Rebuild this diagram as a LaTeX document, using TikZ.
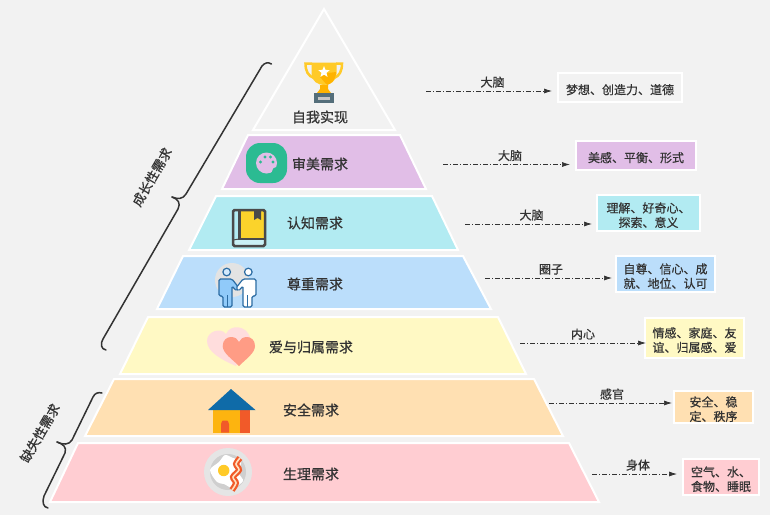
\documentclass[tikz,border=0pt]{standalone}
\usepackage{fontspec}
\setmainfont[UprightFeatures={FakeBold=0.6}]{Noto Sans CJK SC}
\usetikzlibrary{arrows.meta,shapes.geometric}
\definecolor{pagegray}{HTML}{F2F2F2}
\definecolor{textdark}{HTML}{333333}
\definecolor{purplefill}{HTML}{E1BEE7}
\definecolor{cyanfill}{HTML}{B2EBF2}
\definecolor{bluefill}{HTML}{BBDEFB}
\definecolor{yellowfill}{HTML}{FFF9C4}
\definecolor{orangefill}{HTML}{FFE0B2}
\definecolor{pinkfill}{HTML}{FFCDD2}
\definecolor{trophygold}{HTML}{FFCA28}
\definecolor{trophyshade}{HTML}{FFB300}
\definecolor{slate}{HTML}{546E7A}
\definecolor{palettegreen}{HTML}{2BBB92}
\definecolor{bookgray}{HTML}{4A4A4A}
\definecolor{bookyellow}{HTML}{FBD32B}
\definecolor{peopleline}{HTML}{2B6CA3}
\definecolor{peopleblue}{HTML}{90CAF9}
\definecolor{heartback}{HTML}{FFDDDD}
\definecolor{heartfront}{HTML}{FF9C85}
\definecolor{roofblue}{HTML}{0F6BA8}
\definecolor{wallyellow}{HTML}{FDB40F}
\definecolor{wallred}{HTML}{F15A29}
\newcommand{\liftline}{\rule{0pt}{14.5pt}}

\begin{document}
\begin{tikzpicture}[
  x=1pt,
  y=-1pt,
  layer/.style={
    draw=white,
    line width=2pt,
    line join=miter
  },
  layertext/.style={
    text=textdark,
    font=\fontsize{14}{16}\selectfont,
    inner sep=0pt
  },
  infobox/.style={
    draw=white,
    line width=2pt,
    inner sep=0pt,
    align=center,
    text=textdark,
    font=\fontsize{12}{14.5}\selectfont
  },
  flowline/.style={
    draw=textdark,
    line width=.7pt,
    dash pattern=on 5pt off 2pt on 1pt off 2pt,
    -{Latex[length=8pt,width=5pt]}
  },
  flowtext/.style={
    text=textdark,
    font=\fontsize{12}{14}\selectfont,
    inner sep=3pt,
    xshift=1pt
  },
  bracket/.style={
    draw=textdark,
    line width=1.5pt,
    line cap=round
  },
  bracetext/.style={
    text=textdark,
    font=\fontsize{13}{15}\selectfont,
    inner sep=0pt,
    rotate=60
  },
  persona/.style={
    draw=peopleline,
    line width=1.2pt,
    rounded corners=1.5pt
  },
]
\fill[pagegray] (0,0) rectangle (770,515);
\useasboundingbox (0,0) rectangle (770,515);

% pyramid
\draw[layer,fill=pagegray] (324,9) -- (395,130) -- (253,130) -- cycle;
\foreach \col/\xa/\xb/\ya/\xc/\xd/\yb in {
  purplefill/248/400/135/426/222/189,
  cyanfill/216/432/196/458/189/250,
  bluefill/183/463/256/491/157/309,
  yellowfill/148/498/317/526/120/374,
  orangefill/114/534/379/563/85/436,
  pinkfill/78/569/443/599/50/502
}{
  \draw[layer,fill=\col] (\xa,\ya) -- (\xb,\ya) -- (\xc,\yb) -- (\xd,\yb) -- cycle;
}

% trophy
\draw[trophygold,line width=2.5pt] (312,63.5) -- (305.5,63.5) .. controls (305.5,71) and (308,76) .. (314,78);
\draw[trophygold,line width=2.5pt] (336,63.5) -- (342,63.5) .. controls (342,71) and (339.5,76) .. (334,78);
\fill[trophygold] (311.5,62.5) -- (336.5,62.5) -- (336.5,74) .. controls (336.5,81) and (330,85) .. (324,85) .. controls (318,85) and (311.5,81) .. (311.5,74) -- cycle;
\fill[trophyshade] (328,73) -- (336,72) .. controls (336,80) and (331,84) .. (327,85) -- (320,77) -- cycle;
\fill[trophyshade] (320,85) -- (328,85) -- (328,89) -- (331,93) -- (317,93) -- (320,89) -- cycle;
\fill[slate] (314,93) rectangle (333.5,103);
\fill[gray!45] (318,96.5) rectangle (330,100);
\node[star,star points=5,star point ratio=2.3,fill=white,inner sep=0pt,minimum size=12pt] (trophystar) at (324,72) {};

% palette
\fill[palettegreen,rounded corners=14pt] (246,143) rectangle (287,183);
\fill[purplefill] (266.5,163) circle[radius=10.5];
\fill[palettegreen] (276.5,171.5) circle[radius=4.5];
\foreach \px/\py in {260.5/162,265/157,270.5/157,273/162}{
  \fill[palettegreen] (\px,\py) circle[radius=1.7];
}

% book
\fill[bookyellow] (240,210) rectangle (264,238);
\fill[cyanfill!70!white] (234,240) rectangle (264,246);
\draw[bookgray,line width=2.5pt,rounded corners=1.5pt] (233,210) rectangle (265,246);
\draw[bookgray,line width=2.5pt] (239.5,210) -- (239.5,239) -- (265,239);
\draw[bookgray,line width=1pt] (233,240) -- (239,239);
\fill[bookgray] (254,210) -- (261,210) -- (261,220) -- (257.5,218) -- (254,220) -- cycle;

% handshake
\fill[gray!22] (232,280) circle[radius=17];
\draw[persona,fill=peopleblue] (219,296) -- (219,279) -- (232,279) -- (239,288) -- (236.5,291) -- (232,286) -- (232,307) -- (223,307) -- (223,296) -- cycle;
\draw[persona] (227.5,295) -- (227.5,307);
\draw[peopleline,line width=1.2pt,fill=peopleblue!40] (226.7,272) circle[radius=3.8];
\draw[persona,fill=white] (256,296) -- (256,279) -- (243,279) -- (236,288) -- (238.5,291) -- (243,286) -- (243,307) -- (252,307) -- (252,296) -- cycle;
\draw[persona] (247.5,295) -- (247.5,307);
\draw[peopleline,line width=1.2pt,fill=white] (248.3,272) circle[radius=3.8];

% hearts
\fill[heartback] (236,366) .. controls (222,360) and (207,352) .. (207,341) .. controls (207,331) and (221,327) .. (226,334) .. controls (230,324) and (246,325) .. (250,337) -- cycle;
\fill[heartfront] (239,366) .. controls (232,359) and (222.7,353) .. (222.7,346) .. controls (222.7,340) and (227,337) .. (231,337) .. controls (235,337) and (238,339) .. (239,342) .. controls (240,339) and (243,337) .. (247,337) .. controls (251,337) and (255,340) .. (255,346) .. controls (255,353) and (246,359) .. (239,366) -- cycle;

% house
\fill[wallyellow] (213,409) rectangle (240,432.5);
\fill[wallred] (240,409) rectangle (250,432.5);
\fill[wallred] (221,432.5) -- (221,424) .. controls (221,421) and (223,421) .. (223,420.5) -- (227,420.5) .. controls (227,421) and (229,421) .. (229,424) -- (229,432.5) -- cycle;
\fill[roofblue] (231,389) -- (255.5,410) -- (208,410) -- cycle;

% plate
\fill[gray!20] (228,472) circle[radius=24];
\fill[gray!38] (228,472) circle[radius=18];
\fill[white] plot[smooth cycle] coordinates {(210,470) (219,462) (225,455) (233,458) (241,461) (239,473) (243,481) (233,488) (224,484) (217,482)};
\fill[trophygold] (223.7,470.5) circle[radius=5.7];
\draw[wallred,line width=6pt] plot[smooth] coordinates {(240,458) (236,464) (239,470) (233,477) (236,483) (232,490)};
\draw[orange!25,line width=1.6pt] plot[smooth] coordinates {(240,458) (236,464) (239,470) (233,477) (236,483) (232,490)};

% level names
\foreach \n/\tx/\ty/\t in {
  a/320/117/自我实现,
  b/320/164/审美需求,
  c/315/223/认知需求,
  d/315/284/尊重需求,
  e/311/347/爱与归属需求,
  f/311/410/安全需求,
  g/311/474/生理需求
}{
  \node[layertext] (level\n) at (\tx,\ty) {\t};
}

% boxes and arrows
\node[infobox,fill=pagegray,minimum width=124pt,minimum height=29pt] (boxa) at (620,87.5) {\liftline 梦想、创造力、道德};
\node[infobox,fill=purplefill,minimum width=120pt,minimum height=29pt] (boxb) at (636,155.5) {\liftline 美感、平衡、形式};
\node[infobox,fill=cyanfill,minimum width=103pt,minimum height=36pt] (boxc) at (648.5,213) {\liftline 理解、好奇心、\\探索、意义};
\node[infobox,fill=bluefill,minimum width=99pt,minimum height=36pt] (boxd) at (665.5,274) {\liftline 自尊、信心、成\\就、地位、认可};
\node[infobox,fill=yellowfill,minimum width=99pt,minimum height=40pt] (boxe) at (694.5,338) {\liftline 情感、家庭、友\\谊、归属感、爱};
\node[infobox,fill=orangefill,minimum width=79pt,minimum height=32pt] (boxf) at (713.5,407) {\liftline 安全、稳\\定、秩序};
\node[infobox,fill=pinkfill,minimum width=76pt,minimum height=36pt] (boxg) at (721,477) {\liftline 空气、水、\\食物、睡眠};

\foreach \n/\sx/\sy/\gap/\t in {
  a/426/91/5/大脑,
  b/443/164.5/5/大脑,
  c/465/224/4/大脑,
  d/485/278/3/圈子,
  e/520/343/-2/内心,
  f/549/403/1/感官,
  g/592/474/5/身体
}{
  \coordinate (start\n) at (\sx,\sy);
  \draw[flowline,shorten >=\gap pt] (start\n) -- (start\n -| box\n.west)
    node[flowtext,midway,above] (flow\n) {\t};
}

% braces
\draw[bracket] (271.5,64) .. controls (268,62) and (265,62.5) .. (262,66) -- (186,194) .. controls (183,199) and (178,199.5) .. (172,197);
\draw[bracket] (172,197) .. controls (178,199) and (181,203) .. (178,209) -- (103,339) .. controls (100,344) and (101,349) .. (106,350);
\node[bracetext] (growthlabel) at (152,177) {成长性需求};
\draw[bracket] (102,393) .. controls (98,392) and (95,393) .. (93,397) -- (72,440) .. controls (69,445) and (63,445) .. (57,442);
\draw[bracket] (57,442) .. controls (63,444) and (67,447) .. (65,453) -- (44,496) .. controls (42,502) and (43,507) .. (48,508);
\node[bracetext] (lacklabel) at (40,433) {缺失性需求};
\end{tikzpicture}
\end{document}
